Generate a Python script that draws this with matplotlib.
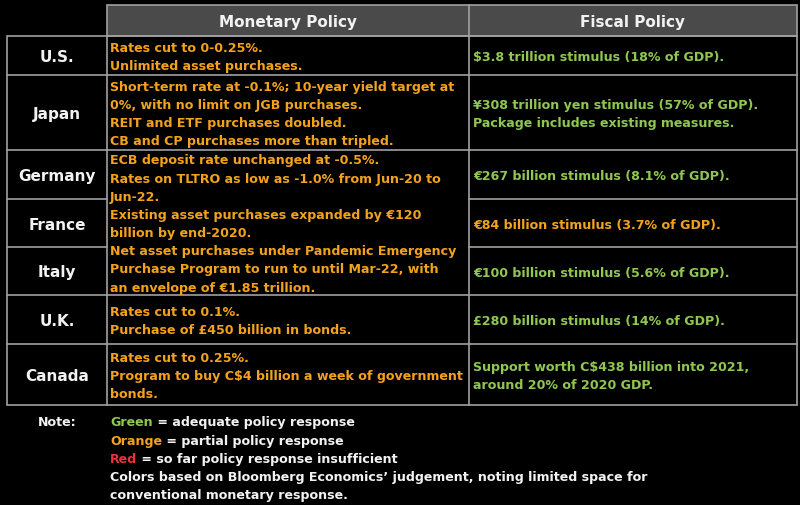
import matplotlib
matplotlib.use("Agg")
from matplotlib import pyplot
from matplotlib.patches import Rectangle

# table content
countries = ["U.S.", "Japan", "Germany", "France", "Italy", "U.K.", "Canada"]
headers = ["Monetary Policy", "Fiscal Policy"]

# monetary cells (Germany/France/Italy share one ECB cell)
monetary_cells = [
    ["Rates cut to 0-0.25%.", "Unlimited asset purchases."],
    ["Short-term rate at -0.1%; 10-year yield target at",
     "0%, with no limit on JGB purchases.",
     "REIT and ETF purchases doubled.",
     "CB and CP purchases more than tripled."],
    ["ECB deposit rate unchanged at -0.5%.",
     "Rates on TLTRO as low as -1.0% from Jun-20 to",
     "Jun-22.",
     "Existing asset purchases expanded by \u20ac120",
     "billion by end-2020.",
     "Net asset purchases under Pandemic Emergency",
     "Purchase Program to run to until Mar-22, with",
     "an envelope of \u20ac1.85 trillion."],
    ["Rates cut to 0.1%.", "Purchase of \u00a3450 billion in bonds."],
    ["Rates cut to 0.25%.",
     "Program to buy C$4 billion a week of government",
     "bonds."],
]
monetary_rating = ["orange", "orange", "orange", "orange", "orange"]
# which country rows each monetary cell spans
monetary_span = [(0, 1), (1, 2), (2, 5), (5, 6), (6, 7)]

fiscal_cells = [
    ["$3.8 trillion stimulus (18% of GDP)."],
    ["\u00a5308 trillion yen stimulus (57% of GDP).",
     "Package includes existing measures."],
    ["\u20ac267 billion stimulus (8.1% of GDP)."],
    ["\u20ac84 billion stimulus (3.7% of GDP)."],
    ["\u20ac100 billion stimulus (5.6% of GDP)."],
    ["\u00a3280 billion stimulus (14% of GDP)."],
    ["Support worth C$438 billion into 2021,",
     "around 20% of 2020 GDP."],
]
fiscal_rating = ["green", "green", "green", "orange", "green", "green", "green"]

note_keys = ["Green", "Orange", "Red"]
note_texts = [" = adequate policy response",
              " = partial policy response",
              " = so far policy response insufficient"]
note_extra = ["Colors based on Bloomberg Economics\u2019 judgement, noting limited space for",
              "conventional monetary response."]

palette = {"green": "#8fc751", "orange": "#f2a21d", "red": "#e8323c",
           "white": "#f2f2f2"}
line_color = "#a0a0a0"

# layout in pixels
x_left, x_c1, x_c2, x_right = 7, 107, 469, 797
y_head_top, y_head_bot = 6, 37
row_edges = [37, 76, 151, 200, 248, 296, 345, 406]
line_h = 18.2
fs = 9.1
fs_big = 11

fig = pyplot.figure(figsize=(8.0, 5.06), dpi=100)
fig.patch.set_facecolor("black")
ax = fig.add_axes([0, 0, 1, 1])
ax.set_xlim(0, 800)
ax.set_ylim(506, 0)
ax.axis("off")

# header
ax.add_patch(Rectangle((x_c1, y_head_top), x_right - x_c1, y_head_bot - y_head_top,
                       facecolor="#4a4a4a", edgecolor=line_color, lw=1.2))
ax.plot([x_c2, x_c2], [y_head_top, y_head_bot], color=line_color, lw=1.2)
for h, (a, b) in zip(headers, [(x_c1, x_c2), (x_c2, x_right)]):
    ax.text((a + b) / 2, (y_head_top + y_head_bot) / 2 + 1, h, color=palette["white"],
            fontsize=fs_big, fontweight="bold", ha="center", va="center")

# outer frame and column lines
ax.add_patch(Rectangle((x_left, row_edges[0]), x_right - x_left,
                       row_edges[-1] - row_edges[0], facecolor="none",
                       edgecolor=line_color, lw=1.2))
for x in [x_c1, x_c2]:
    ax.plot([x, x], [row_edges[0], row_edges[-1]], color=line_color, lw=1.2)

# horizontal lines
for i, y in enumerate(row_edges[1:-1], start=1):
    ax.plot([x_left, x_c1], [y, y], color=line_color, lw=1.2)
    ax.plot([x_c2, x_right], [y, y], color=line_color, lw=1.2)
    if i not in (3, 4):
        ax.plot([x_c1, x_c2], [y, y], color=line_color, lw=1.2)

# country labels
for i, c in enumerate(countries):
    yc = (row_edges[i] + row_edges[i + 1]) / 2 + 1
    ax.text((x_left + x_c1) / 2, yc, c, color=palette["white"], fontsize=fs_big,
            fontweight="bold", ha="center", va="center")


def draw_lines(lines, x, ytop, ybot, color):
    n = len(lines)
    y0 = (ytop + ybot) / 2 - (n - 1) * line_h / 2 + 1
    for k, s in enumerate(lines):
        ax.text(x, y0 + k * line_h, s, color=color, fontsize=fs,
                fontweight="bold", ha="left", va="center")


for lines, rating, (r0, r1) in zip(monetary_cells, monetary_rating, monetary_span):
    draw_lines(lines, x_c1 + 3, row_edges[r0], row_edges[r1], palette[rating])

for i, (lines, rating) in enumerate(zip(fiscal_cells, fiscal_rating)):
    draw_lines(lines, x_c2 + 4, row_edges[i], row_edges[i + 1], palette[rating])

# note section
note_y0 = 423
ax.text((x_left + x_c1) / 2, note_y0, "Note:", color=palette["white"], fontsize=fs,
        fontweight="bold", ha="center", va="center")
renderer = fig.canvas.get_renderer()
inv = ax.transData.inverted()
for k, (key, rest) in enumerate(zip(note_keys, note_texts)):
    y = note_y0 + k * line_h
    t = ax.text(x_c1 + 3, y, key, color=palette[key.lower()], fontsize=fs,
                fontweight="bold", ha="left", va="center")
    bb = t.get_window_extent(renderer=renderer)
    xend = inv.transform((bb.x1, bb.y0))[0]
    ax.text(xend, y, rest, color=palette["white"], fontsize=fs,
            fontweight="bold", ha="left", va="center")
for k, s in enumerate(note_extra):
    ax.text(x_c1 + 3, note_y0 + (3 + k) * line_h, s, color=palette["white"],
            fontsize=fs, fontweight="bold", ha="left", va="center")

fig.savefig("out.png", dpi=100, facecolor="black")
